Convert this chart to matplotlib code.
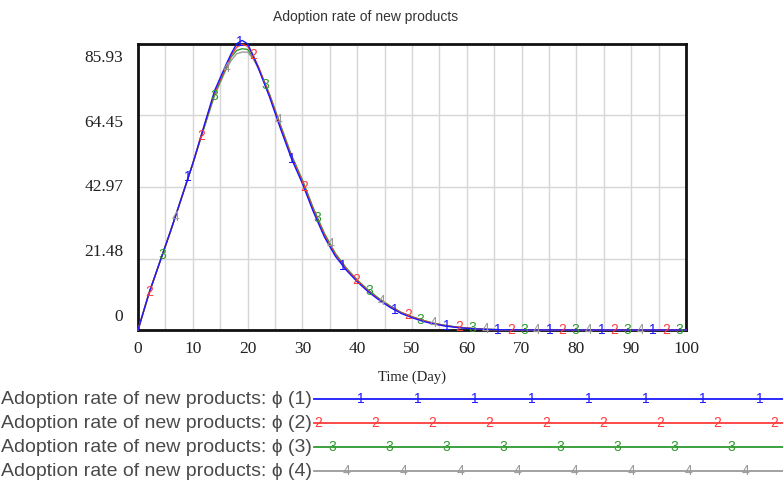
import numpy as np
import matplotlib
matplotlib.use("Agg")
import matplotlib.pyplot as plt
from matplotlib.lines import Line2D
from matplotlib.transforms import ScaledTranslation

# Data
time = [0, 2, 4, 6, 8, 10, 12, 14, 16, 17, 18, 19, 20, 21, 22, 24, 26, 28, 30,
        32, 34, 36, 38, 40, 42, 44, 46, 48, 50, 52, 54, 56, 58, 60, 62, 64, 66,
        70, 80, 90, 100]
run1 = [0, 11, 20.5, 30, 40, 50, 61, 72, 79.5, 83, 86, 87, 86, 82.5, 78.5, 70,
        60.5, 51.5, 44, 35.5, 28, 22.2, 18, 14.5, 11.5, 9, 6.8, 5, 3.7, 2.6,
        1.8, 1.2, 0.8, 0.5, 0.3, 0.15, 0.08, 0.02, 0, 0, 0]
run2 = [0, 11, 20.5, 30, 40, 50, 61, 71.5, 79, 82.5, 85, 85.8, 85.3, 82.5,
        79, 70.5, 61, 52, 44.5, 36, 28.5, 22.6, 18.3, 14.8, 11.7, 9.2, 7, 5.2,
        3.9, 2.8, 1.9, 1.3, 0.9, 0.55, 0.3, 0.15, 0.08, 0.02, 0, 0, 0]
run3 = [0, 11, 20.5, 30, 40, 50, 60.5, 71, 78.5, 82, 84, 84.5, 84.3, 82,
        78.8, 70.8, 61.5, 52.5, 45, 36.5, 29, 23, 18.6, 15, 12, 9.4, 7.2, 5.3,
        4, 2.9, 2, 1.4, 0.9, 0.6, 0.35, 0.18, 0.09, 0.02, 0, 0, 0]
run4 = [0, 11, 20.5, 30, 40, 50, 60.5, 70.5, 78, 81, 83, 83.5, 83.5, 81.5,
        78.5, 70.8, 61.5, 52.5, 45, 36.5, 29, 23, 18.6, 15, 12, 9.4, 7.2, 5.3,
        4, 2.9, 2, 1.4, 0.9, 0.6, 0.35, 0.18, 0.09, 0.02, 0, 0, 0]
runs = [run1, run2, run3, run4]
run_names = ["1", "2", "3", "4"]
colors = ["#1a1aff", "#ff3b3b", "#2e9a2e", "#9a9a9a"]
legend_text = "Adoption rate of new products: \u0278 ({})"

yticks = [0, 21.48, 42.97, 64.45, 85.93]
xticks = list(range(0, 101, 10))

# digit markers along the curves, cycling 2,3,4,1
mark_start, mark_step = 2.1, 2.356

W, H = 783, 499
fig = plt.figure(figsize=(W / 100, H / 100), dpi=100)
ax = fig.add_axes([138 / W, 1 - 330 / H, (686 - 138) / W, (330 - 44) / H])

for i in [3, 2, 1, 0]:
    ax.plot(time, runs[i], color=colors[i], lw=1.0, zorder=3 + (3 - i),
            clip_on=False)

k = 0
t = mark_start
order = [1, 2, 3, 0]
while t <= 100:
    i = order[k % 4]
    v = np.interp(t, time, runs[i])
    ax.text(t, v, run_names[i], color=colors[i], fontsize=10,
            family="Liberation Sans", ha="center", va="center", zorder=10,
            clip_on=False)
    k += 1
    t = mark_start + k * mark_step

ax.set_xlim(0, 100)
ax.set_ylim(0, 85.93)
ax.set_xticks(range(0, 101, 5), minor=False)
ax.set_yticks(yticks)
ax.grid(True, color="#d6d6d6", lw=1)
ax.tick_params(length=0, labelleft=False, labelbottom=False)
for s in ax.spines.values():
    s.set_linewidth(2)
    s.set_color("#111111")

serif = "Liberation Serif"
for x in xticks:
    ax.text(x, -0.04, str(x), transform=ax.get_xaxis_transform(),
            ha="center", va="top", fontsize=12.5, family=serif, color="#222222")

# Vensim squeezes the y labels inside the axis range
for v in yticks:
    shift = (13 - v / 85.93 * 27) / 100
    tr = ax.get_yaxis_transform() + ScaledTranslation(0, shift, fig.dpi_scale_trans)
    lab = "0" if v == 0 else f"{v:.2f}"
    ax.text(-0.027, v, lab, transform=tr, ha="right", va="center",
            fontsize=12.5, family=serif, color="#222222")

fig.text(412 / W, 1 - 377 / H, "Time (Day)", ha="center", va="center",
         fontsize=10.5, family=serif, color="#222222")
fig.text(366 / W, 1 - 17 / H, "Adoption rate of new products", ha="center",
         va="center", fontsize=10, family="Liberation Sans", color="#333333")

# legend rows below the chart
rows_y = [399, 423, 447, 471]
for i in range(4):
    y = 1 - rows_y[i] / H
    fig.text(312 / W, y, legend_text.format(i + 1), ha="right", va="center",
             fontsize=14, family="Liberation Sans", color="#4a4a4a")
    fig.add_artist(Line2D([314 / W, 1], [y, y], color=colors[i], lw=1.3))
    x = 318 + 14.3 * ((i + 3) % 4)
    while x < W:
        fig.text(x / W, y, run_names[i], ha="center", va="center",
                 fontsize=10, family="Liberation Sans", color=colors[i])
        x += 57

fig.savefig("out.png", dpi=100)
